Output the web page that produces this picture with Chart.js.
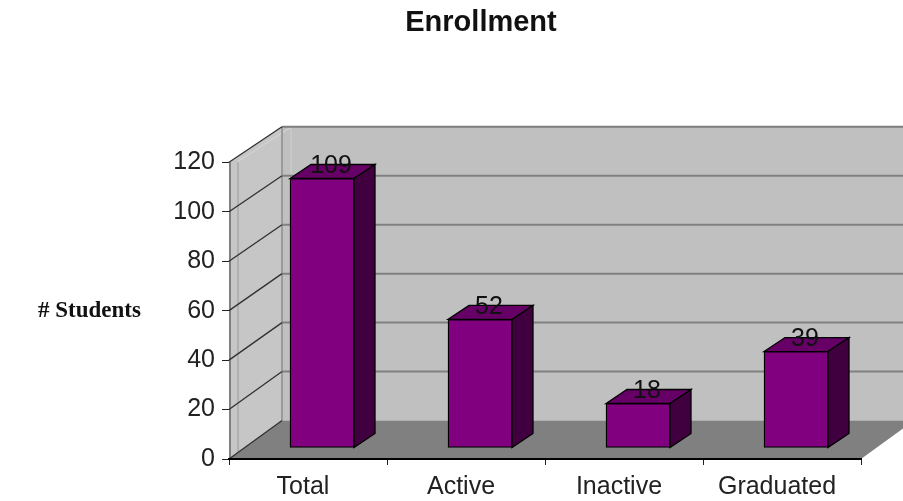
<!DOCTYPE html>
<html><head><meta charset="utf-8">
<style>html,body{margin:0;padding:0;background:#fff}#w{width:903px;height:501px}canvas{filter:blur(0.7px)}</style>
<script src="https://cdn.jsdelivr.net/npm/chart.js@4"></script></head>
<body><div id="w"><canvas id="c"></canvas></div>
<script>
const categories = ['Total','Active','Inactive','Graduated'];
const students = [109,52,18,39];
const yTicks = [0,20,40,60,80,100,120];
const chartTitle = 'Enrollment';
const yAxisTitle = '# Students';

const DX = 53, DY = -35.5;      // wall depth
const BACK = 294/297;           // back wall is a touch shorter than the front plane
const BX = 14, BY = -11;        // bars stand in from the front edge
const SX = 21, SY = -14;        // bar depth

function poly(ctx, pts, fill, stroke, lw){
  ctx.beginPath();
  pts.forEach((p,i)=> i?ctx.lineTo(p[0],p[1]):ctx.moveTo(p[0],p[1]));
  ctx.closePath();
  if(fill){ctx.fillStyle=fill;ctx.fill();}
  if(stroke){ctx.strokeStyle=stroke;ctx.lineWidth=lw||1;ctx.stroke();}
}
function line(ctx,x1,y1,x2,y2,c,lw){
  ctx.beginPath();ctx.moveTo(x1,y1);ctx.lineTo(x2,y2);ctx.strokeStyle=c;ctx.lineWidth=lw;ctx.stroke();
}
const walls = {
  id:'walls',
  beforeDraw(chart){
    const {ctx,chartArea:a,scales:{y}} = chart;
    const L=a.left,R=a.right,T=a.top,B=a.bottom;
    const backY = p => T+DY+(p-T)*BACK;
    const bT=backY(T), bB=backY(B);
    ctx.save();
    poly(ctx,[[L+DX,bT],[R+DX,bT],[R+DX,bB],[L+DX,bB]],'#c0c0c0');
    poly(ctx,[[L,T],[L+DX,bT],[L+DX,bB],[L,B]],'#c6c6c6');
    poly(ctx,[[L,B],[R,B],[R+DX,bB],[L+DX,bB]],'#808080');
    line(ctx,L+DX,bT,R+DX,bT,'#a0a0a0',1.5);
    line(ctx,L+9,T-1,L+DX+8,bT+1,'#d8d8d8',1);
    line(ctx,L+9,T,L+9,B-6,'#a8a8a8',1.5);
    line(ctx,L+DX+9,bT,L+DX+9,bB,'#cfcfcf',1);
    line(ctx,L+DX,bT,L+DX,bB,'#8c8c8c',1.5);
    line(ctx,L+1,T,L+1,B,'#808080',2);
    yTicks.forEach(v=>{
      const p=y.getPixelForValue(v);
      if(v>0) line(ctx,L+DX,backY(p),R+DX,backY(p),'#808080',2);
      line(ctx,L,p,L+DX,backY(p),'#303030',1.3);
    });
    ctx.restore();
  },
  beforeDatasetDraw(chart){
    const {ctx}=chart;
    ctx.save();
    ctx.translate(BX,BY);
    chart.getDatasetMeta(0).data.forEach(bar=>{
      const {x,y,base,width}=bar.getProps(['x','y','base','width'],true);
      const l=x-width/2,r=x+width/2;
      poly(ctx,[[l,y],[r,y],[r+SX,y+SY],[l+SX,y+SY]],'#660066','#000',1.3);
      poly(ctx,[[r,y],[r+SX,y+SY],[r+SX,base+SY],[r,base]],'#400040','#000',1.3);
    });
  },
  afterDatasetDraw(chart){
    const {ctx}=chart;
    ctx.restore();
    ctx.save();
    ctx.fillStyle='#111';
    ctx.font='25px "Liberation Sans"';
    ctx.textAlign='center';ctx.textBaseline='middle';
    chart.getDatasetMeta(0).data.forEach((bar,i)=>{
      const {x,y}=bar.getProps(['x','y'],true);
      ctx.fillText(String(students[i]),x+BX+9,y+BY-12);
    });
    ctx.restore();
  },
  afterDraw(chart){
    const {ctx}=chart;
    ctx.save();
    ctx.fillStyle='#111';
    ctx.font='bold 23px "Liberation Serif"';
    ctx.textAlign='left';ctx.textBaseline='middle';
    ctx.fillText(yAxisTitle,38,311);
    ctx.restore();
  },
  afterLayout(chart){
    const t=chart.titleBlock;
    if(t){t.left=0;t.right=962;}
  }
};
new Chart(document.getElementById('c'),{
  type:'bar',
  data:{labels:categories,datasets:[{label:yAxisTitle,data:students,backgroundColor:'#800080',borderColor:'#000',borderWidth:1.3,barThickness:64,borderSkipped:false}]},
  plugins:[walls],
  options:{
    responsive:true,maintainAspectRatio:false,animation:false,
    layout:{padding:{left:0,right:42,top:0,bottom:0}},
    plugins:{
      legend:{display:false},tooltip:{enabled:false},
      title:{display:true,text:chartTitle,color:'#111',font:{family:'"Liberation Sans"',size:29,weight:'bold',lineHeight:1.2},padding:{top:6,bottom:121.5}}
    },
    scales:{
      x:{
        afterFit(s){s.height=42;s.paddingLeft=0;s.paddingRight=0;},
        grid:{display:true,drawOnChartArea:false,drawTicks:true,tickLength:6,color:'#222',offset:true},
        border:{display:true,color:'#000',width:2},
        ticks:{color:'#222',font:{family:'"Liberation Sans"',size:25},maxRotation:0,padding:7,labelOffset:-5}
      },
      y:{
        min:0,max:120,
        afterFit(s){s.width=229;s.paddingTop=0;s.paddingBottom=0;},
        grid:{display:true,drawOnChartArea:false,drawTicks:true,tickLength:7,color:'#222'},
        border:{display:false},
        ticks:{color:'#222',stepSize:20,font:{family:'"Liberation Sans"',size:25},padding:7}
      }
    }
  }
});
</script></body></html>
